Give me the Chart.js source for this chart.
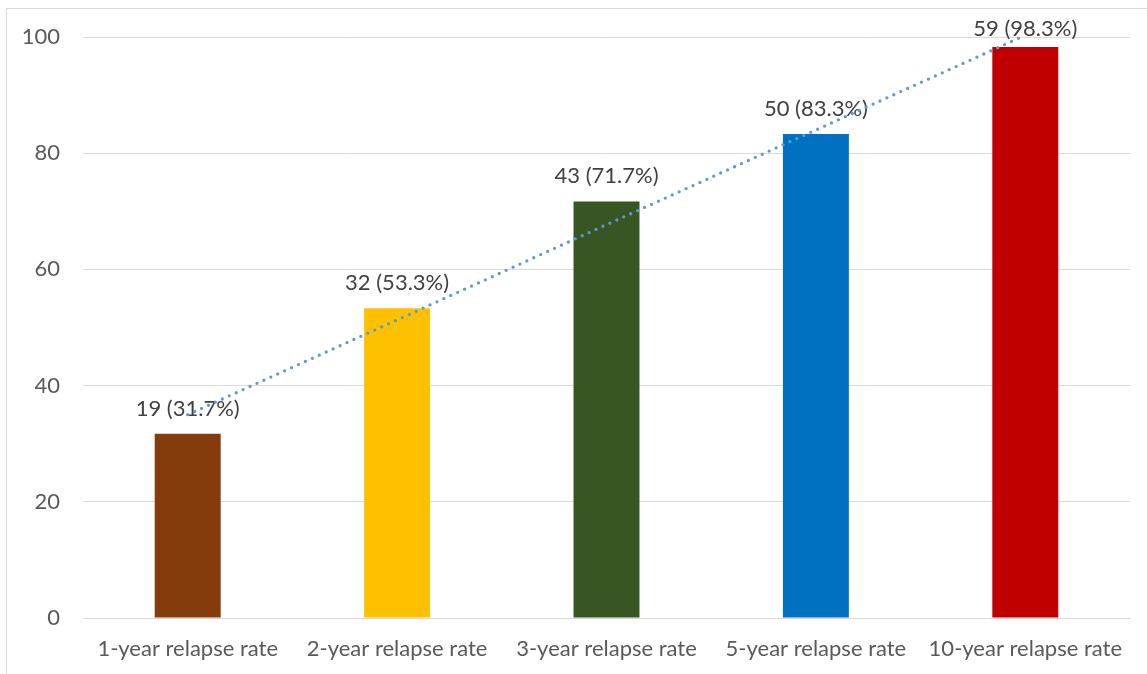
<!DOCTYPE html>
<html>
<head>
<meta charset="utf-8">
<script src="https://cdn.jsdelivr.net/npm/chart.js@4"></script>
<style>
  html, body { margin: 0; padding: 0; background: #fff; }
  #wrap { position: relative; width: 1147px; height: 674px; }
</style>
</head>
<body>
<div id="wrap"><canvas id="grafico" width="1147" height="674"></canvas></div>
<script>
// categorias e valores
const categorias = ["1-year relapse rate", "2-year relapse rate", "3-year relapse rate", "5-year relapse rate", "10-year relapse rate"];
const casos = [19, 32, 43, 50, 59];
const percentuais = [31.7, 53.3, 71.7, 83.3, 98.3];
const tendencia = [35.0, 51.3, 67.7, 84.0, 100.3];
const coresBarras = ["#843C0C", "#FFC000", "#375623", "#0070C0", "#C00000"];
const ticksY = [0, 20, 40, 60, 80, 100];

const fonte = "Lato, 'Open Sans', sans-serif";

/* =========================
   BORDA EXTERNA
========================= */
const borda = {
  id: "borda",
  beforeDraw(chart) {
    const ctx = chart.ctx;
    ctx.save();
    ctx.strokeStyle = "#d9d9d9";
    ctx.lineWidth = 1;
    ctx.beginPath();
    ctx.moveTo(6.5, 674);
    ctx.lineTo(6.5, 8.5);
    ctx.lineTo(1147, 8.5);
    ctx.stroke();
    ctx.restore();
  }
};

/* =========================
   RÓTULOS "n (x%)"
========================= */
const rotulos = {
  id: "rotulos",
  beforeDatasetsDraw(chart) {
    const ctx = chart.ctx;
    const meta = chart.getDatasetMeta(1); // barras
    const topo = chart.chartArea.top;
    ctx.save();
    ctx.font = "22px " + fonte;
    ctx.fillStyle = "#404040";
    ctx.textAlign = "center";
    ctx.textBaseline = "alphabetic";
    meta.data.forEach((barra, i) => {
      const texto = casos[i] + " (" + percentuais[i].toFixed(1) + "%)";
      // não deixa o rótulo subir além do topo da área do gráfico
      const y = Math.max(barra.y - 18, topo - 1);
      ctx.fillText(texto, barra.x, y);
    });
    ctx.restore();
  }
};

new Chart(document.getElementById("grafico"), {
  data: {
    labels: categorias,
    datasets: [
      {
        type: "line",
        data: tendencia,
        borderColor: "#5B9BD5",
        borderWidth: 3.3,
        borderDash: [0, 7.6],
        borderCapStyle: "round",
        pointRadius: 0,
        tension: 0,
        fill: false,
        clip: false,
        order: 0
      },
      {
        type: "bar",
        data: percentuais,
        backgroundColor: coresBarras,
        categoryPercentage: 1,
        barPercentage: 0.315,
        order: 1
      }
    ]
  },
  options: {
    responsive: false,
    animation: false,
    layout: { padding: { left: 0, right: 17, top: 37, bottom: 0 } },
    plugins: {
      legend: { display: false },
      tooltip: { enabled: false }
    },
    scales: {
      x: {
        grid: { display: false, drawTicks: false },
        border: { display: true, color: "#d9d9d9", width: 1 },
        ticks: { color: "#595959", font: { family: fonte, size: 22 }, padding: 18, maxRotation: 0 },
        afterFit(scale) { scale.height = 56; }
      },
      y: {
        min: 0,
        max: 100,
        afterBuildTicks(scale) { scale.ticks = ticksY.map(v => ({ value: v })); },
        grid: { color: "#d9d9d9", lineWidth: 1, drawTicks: false },
        border: { display: false },
        ticks: { color: "#595959", font: { family: fonte, size: 22 }, padding: 23 },
        afterFit(scale) { scale.width = 83; }
      }
    }
  },
  plugins: [borda, rotulos]
});
</script>
</body>
</html>
